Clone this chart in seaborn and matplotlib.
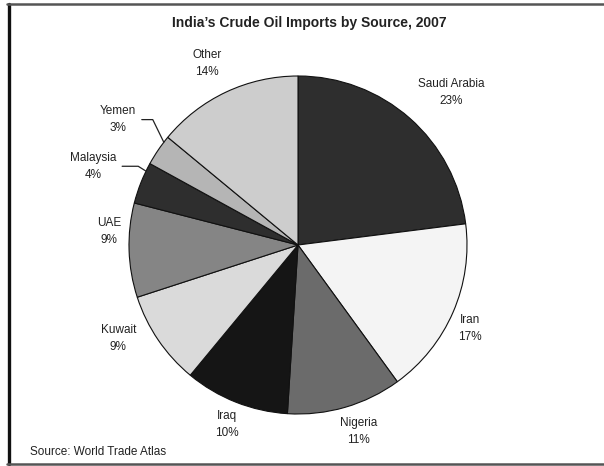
import matplotlib.pyplot as plt
from matplotlib.lines import Line2D
import numpy as np
import seaborn as sns

# Data
sources = ['Saudi Arabia', 'Iran', 'Nigeria', 'Iraq', 'Kuwait', 'UAE', 'Malaysia', 'Yemen', 'Other']
shares = [23, 17, 11, 10, 9, 9, 4, 3, 14]
colors = ['#2e2e2e', '#f4f4f4', '#6b6b6b', '#151515', '#dadada', '#858585', '#2e2e2e', '#b5b5b5', '#cdcdcd']

# label layout: radial distance (x radius) and angular nudge (degrees, clockwise)
label_dist = [1.28, 1.13, 1.16, 1.14, 1.2, 1.12, 1.3, 1.3, 1.2]
label_nudge = [3.8, 2.4, -1.8, 0.0, 6.6, 5.8, -0.6, 0.6, -1.5]
# leader lines: slope of the segment that touches the pie
leader = {'Malaysia': -32, 'Yemen': -64}

sns.set_theme(style='white')
plt.rcParams['font.family'] = ['Liberation Sans', 'DejaVu Sans']

W, H = 604, 466
fig = plt.figure(figsize=(W / 100, H / 100), dpi=100)
ax = fig.add_axes([0, 0, 1, 1])

cx, cy, r = 298, H - 245, 169
wedges, _ = ax.pie(shares, colors=colors, startangle=90, counterclock=False,
                   center=(cx, cy), radius=r, frame=True,
                   wedgeprops=dict(edgecolor='#111111', linewidth=0.8))
ax.set_xlim(0, W)
ax.set_ylim(0, H)
ax.axis('off')

for w, name, val, d, nudge in zip(wedges, sources, shares, label_dist, label_nudge):
    mid = np.deg2rad((w.theta1 + w.theta2) / 2)
    ang = mid - np.deg2rad(nudge)
    tx, ty = cx + d * r * np.cos(ang), cy + d * r * np.sin(ang)
    label = f'{name}\n{val}%'
    if name in leader:
        # leader touches the pie 80% of the way through the slice (clockwise)
        a = np.deg2rad(w.theta2 - 0.8 * (w.theta2 - w.theta1))
        ex, ey = cx + r * np.cos(a), cy + r * np.sin(a)
        ax.annotate(label, xy=(ex, ey), xytext=(tx, ty), ha='center', va='center',
                    fontsize=8.5, color='#222222', linespacing=1.55,
                    arrowprops=dict(arrowstyle='-', color='#222222', lw=0.9,
                                    relpos=(1, 0.5), shrinkA=2, shrinkB=0,
                                    connectionstyle=f'angle,angleA=0,angleB={leader[name]},rad=0'))
    else:
        ax.text(tx, ty, label, ha='center', va='center', fontsize=8.5,
                color='#222222', linespacing=1.55)

ax.text(309, H - 23, 'India\u2019s Crude Oil Imports by Source, 2007', ha='center',
        va='center', fontsize=10, fontweight='bold', color='#222222')
ax.text(30, H - 452, 'Source: World Trade Atlas', ha='left', va='center',
        fontsize=8.5, color='#222222')

# frame around the figure
fig.add_artist(Line2D([8.5 / W, 8.5 / W], [1 - 4 / H, 1 - 464 / H], transform=fig.transFigure,
                      color='#111111', lw=2.4))
fig.add_artist(Line2D([7.5 / W, 1], [1 - 4 / H, 1 - 4 / H], transform=fig.transFigure,
                      color='#555555', lw=1.8))
fig.add_artist(Line2D([7.5 / W, 1], [1 - 464 / H, 1 - 464 / H], transform=fig.transFigure,
                      color='#555555', lw=1.8))

fig.savefig('out.png', dpi=100)
